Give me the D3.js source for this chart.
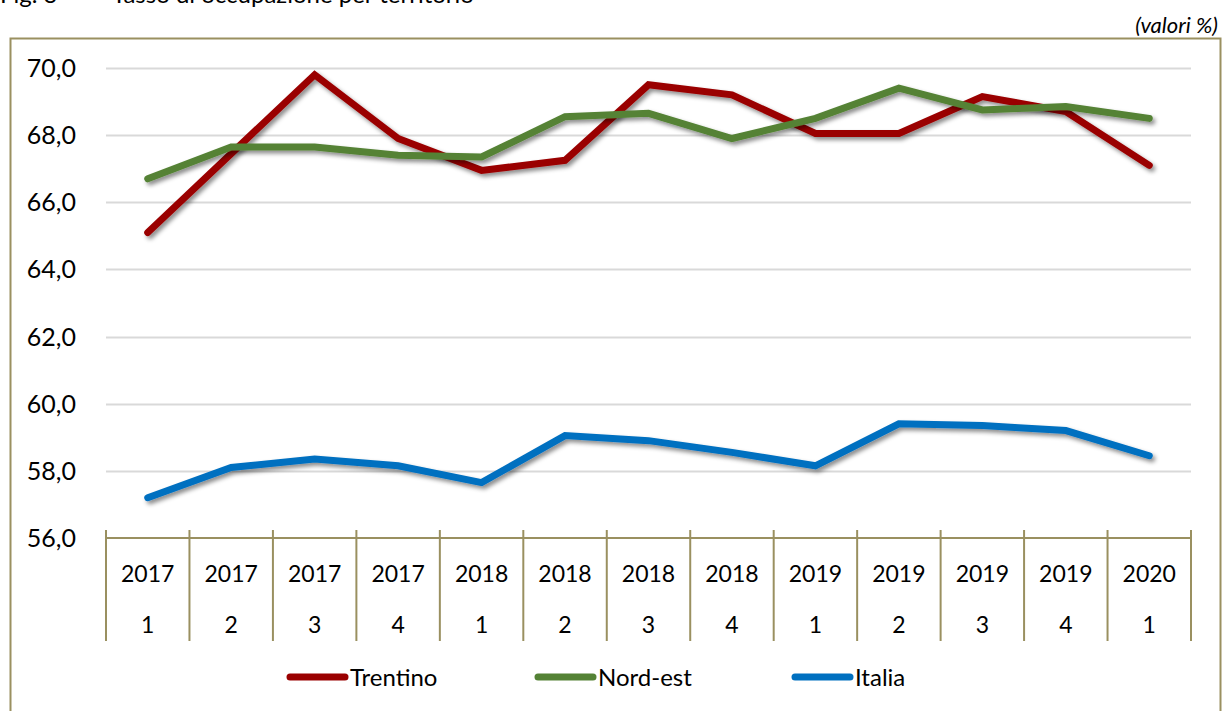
<!DOCTYPE html>
<head>
    <title>Tasso di occupazione per territorio</title>
    <script src="https://d3js.org/d3.v7.min.js"></script>
    <style>
        body { margin: 0; background: #fff; }
        svg { display: block; font-family: Lato, "Open Sans", sans-serif; }
    </style>
</head>
<body>
    <svg width="1225" height="711"></svg>
    <script>
        // anno / trimestre
        var years = ["2017", "2017", "2017", "2017", "2018", "2018", "2018", "2018", "2019", "2019", "2019", "2019", "2020"];
        var quarters = ["1", "2", "3", "4", "1", "2", "3", "4", "1", "2", "3", "4", "1"];

        var trentino = [65.1, 67.45, 69.8, 67.9, 66.95, 67.25, 69.5, 69.2, 68.05, 68.05, 69.15, 68.7, 67.1];
        var nordEst = [66.7, 67.65, 67.65, 67.4, 67.35, 68.55, 68.65, 67.9, 68.5, 69.4, 68.75, 68.85, 68.5];
        var italia = [57.2, 58.1, 58.35, 58.15, 57.65, 59.05, 58.9, 58.55, 58.15, 59.4, 59.35, 59.2, 58.45];

        var yTicks = [56, 58, 60, 62, 64, 66, 68, 70];

        var series = [
            { name: "Trentino", values: trentino, color: "#9a0000", lx: 290 },
            { name: "Nord-est", values: nordEst, color: "#548235", lx: 538 },
            { name: "Italia", values: italia, color: "#0070c0", lx: 795 }
        ];

        var svg = d3.select("svg");
        var frameColor = "#9a9060";

        var x = d3.scaleBand()
            .domain(d3.range(years.length))
            .range([106, 1191]);

        var y = d3.scaleLinear()
            .domain([56, 70])
            .range([538, 68]);

        var defs = svg.append("defs");
        defs.append("filter")
            .attr("id", "shadow")
            .attr("x", "-10%").attr("y", "-20%")
            .attr("width", "130%").attr("height", "160%")
            .append("feDropShadow")
            .attr("dx", 2.5).attr("dy", 3)
            .attr("stdDeviation", 2)
            .attr("flood-color", "#000")
            .attr("flood-opacity", 0.45);

        // titolo (tagliato in alto, come nell'originale)
        svg.append("text").attr("x", 0).attr("y", 3)
            .attr("font-size", 24).attr("fill", "#000").text("Fig. 3");
        svg.append("text").attr("x", 112).attr("y", 3)
            .attr("font-size", 24).attr("fill", "#000").text("Tasso di occupazione per territorio");

        svg.append("text")
            .attr("x", 1218).attr("y", 33)
            .attr("text-anchor", "end")
            .attr("font-size", 22)
            .attr("font-style", "italic")
            .text("(valori %)");

        // cornice
        svg.append("rect")
            .attr("x", 10.5).attr("y", 38.5)
            .attr("width", 1210).attr("height", 700)
            .attr("fill", "none")
            .attr("stroke", frameColor)
            .attr("stroke-width", 2);

        // griglia
        svg.append("g")
            .selectAll("line")
            .data(yTicks.filter(function(d) { return d > 56; }))
            .enter().append("line")
            .attr("x1", x.range()[0]).attr("x2", x.range()[1])
            .attr("y1", function(d) { return Math.round(y(d)) + 0.5; })
            .attr("y2", function(d) { return Math.round(y(d)) + 0.5; })
            .attr("stroke", "#d9d9d9")
            .attr("stroke-width", 2);

        // asse y
        svg.append("g")
            .selectAll("text")
            .data(yTicks)
            .enter().append("text")
            .attr("x", 76)
            .attr("y", function(d) { return y(d); })
            .attr("dy", "0.36em")
            .attr("text-anchor", "end")
            .attr("font-size", 25)
            .attr("fill", "#000")
            .text(function(d) { return d3.format(".1f")(d).replace(".", ","); });

        // asse x
        var xa = svg.append("g");
        xa.append("line")
            .attr("x1", x.range()[0]).attr("x2", x.range()[1])
            .attr("y1", y(56)).attr("y2", y(56))
            .attr("stroke", frameColor).attr("stroke-width", 2);
        xa.selectAll("line.tick")
            .data(d3.range(years.length + 1))
            .enter().append("line")
            .attr("class", "tick")
            .attr("x1", function(i) { return x.range()[0] + i * x.step(); })
            .attr("x2", function(i) { return x.range()[0] + i * x.step(); })
            .attr("y1", 530).attr("y2", 641)
            .attr("stroke", frameColor).attr("stroke-width", 2);
        xa.selectAll("text.year")
            .data(years)
            .enter().append("text")
            .attr("class", "year")
            .attr("x", function(d, i) { return x(i) + x.bandwidth() / 2; })
            .attr("y", 574).attr("dy", "0.36em")
            .attr("text-anchor", "middle")
            .attr("font-size", 23)
            .text(function(d) { return d; });
        xa.selectAll("text.q")
            .data(quarters)
            .enter().append("text")
            .attr("class", "q")
            .attr("x", function(d, i) { return x(i) + x.bandwidth() / 2; })
            .attr("y", 625).attr("dy", "0.36em")
            .attr("text-anchor", "middle")
            .attr("font-size", 23)
            .text(function(d) { return d; });

        // linee
        var line = d3.line()
            .x(function(d, i) { return x(i) + x.bandwidth() / 2; })
            .y(function(d) { return y(d); });

        svg.append("g")
            .selectAll("path")
            .data(series)
            .enter().append("path")
            .attr("d", function(s) { return line(s.values); })
            .attr("fill", "none")
            .attr("stroke", function(s) { return s.color; })
            .attr("stroke-width", 7)
            .attr("stroke-linecap", "round")
            .attr("stroke-linejoin", "miter")
            .attr("filter", "url(#shadow)");

        // legenda
        var lg = svg.append("g").selectAll("g")
            .data(series)
            .enter().append("g");
        lg.append("line")
            .attr("x1", function(s) { return s.lx; })
            .attr("x2", function(s) { return s.lx + 55; })
            .attr("y1", 677).attr("y2", 677)
            .attr("stroke", function(s) { return s.color; })
            .attr("stroke-width", 7)
            .attr("stroke-linecap", "round");
        lg.append("text")
            .attr("x", function(s) { return s.lx + 60; })
            .attr("y", 677).attr("dy", "0.36em")
            .attr("font-size", 24)
            .text(function(s) { return s.name; });
    </script>
</body>
